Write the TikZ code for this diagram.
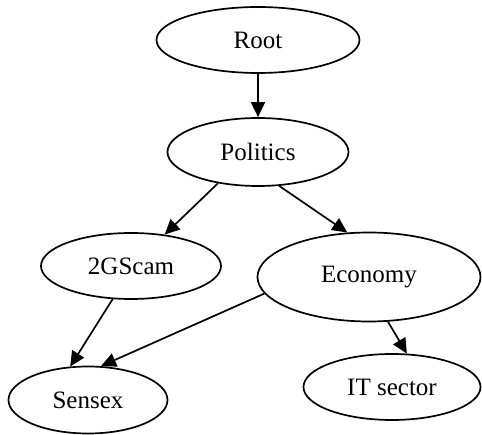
\documentclass[tikz,border=0pt]{standalone}
\usepackage{fontspec}
\setmainfont{Liberation Serif}
\usetikzlibrary{shapes.geometric,arrows.meta}
\begin{document}
\begin{tikzpicture}[x=1pt,y=-1pt,
  nd/.style={ellipse,draw,line width=1.7pt,inner sep=0pt,font=\fontsize{25}{30}\selectfont},
  edge/.style={line width=1.7pt,-{Triangle[length=15pt,width=14pt]}}]
\useasboundingbox (0,0) rectangle (482,435);
\node[nd,minimum width=203pt,minimum height=66pt] (root) at (258,40) {Root};
\node[nd,minimum width=181pt,minimum height=68pt] (pol) at (258,152) {Politics};
\node[nd,minimum width=180pt,minimum height=66pt] (gs) at (131,266) {2GScam};
\node[nd,minimum width=223pt,minimum height=89pt] (eco) at (369,277) {Economy};
\node[nd,minimum width=159pt,minimum height=67pt] (sen) at (88,400) {Sensex};
\node[nd,minimum width=177pt,minimum height=66pt] (it) at (392,387) {IT sector};
\draw[edge] (root.south) -- (pol.north);
\draw[edge] (pol.218) -- (gs.43);
\draw[edge] (pol.302) -- (eco.116);
\draw[edge] (gs.241) -- (sen.118);
\draw[edge] (eco.189) -- (sen.69);
\draw[edge] (eco.293) -- (it.66);
\end{tikzpicture}
\end{document}
